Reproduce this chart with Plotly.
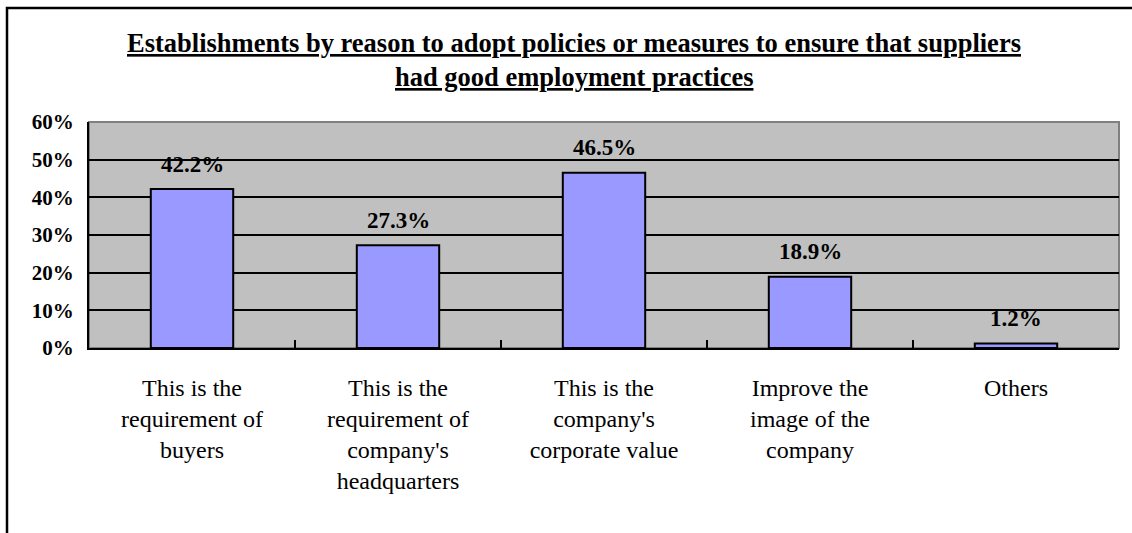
import plotly.graph_objects as go

# Survey results: reasons for adopting supplier employment-practice policies
categories = [
    "This is the<br>requirement of<br>buyers",
    "This is the<br>requirement of<br>company's<br>headquarters",
    "This is the<br>company's<br>corporate value",
    "Improve the<br>image of the<br>company",
    "Others",
]
shares = [42.2, 27.3, 46.5, 18.9, 1.2]
y_ticks = [0, 10, 20, 30, 40, 50, 60]
y_tick_text = [f"{v}%" for v in y_ticks]

title_lines = [
    "Establishments by reason to adopt policies or measures to ensure that suppliers",
    "had good employment practices",
]

FONT = "Liberation Serif"
W, H = 1132, 533
M_L, M_R, M_T, M_B = 89, 13, 122, 185
PW, PH = W - M_L - M_R, H - M_T - M_B


def px_x(px):
    return (px - M_L) / PW


def px_y(py):
    return (H - M_B - py) / PH


fig = go.Figure()
fig.add_trace(go.Bar(
    x=categories,
    y=shares,
    width=0.4,
    marker=dict(color="#9999FF", line=dict(color="black", width=2)),
    hoverinfo="skip",
))

annotations = []
for cat, val in zip(categories, shares):
    annotations.append(dict(
        x=cat, y=val, xref="x", yref="y",
        text=f"<b>{val:.1f}%</b>", showarrow=False,
        yanchor="middle", yshift=25,
        font=dict(family=FONT, size=23, color="black"),
    ))

for line, py in zip(title_lines, [43, 77]):
    annotations.append(dict(
        x=px_x(574), y=px_y(py), xref="paper", yref="paper",
        text=f"<b><u>{line}</u></b>", showarrow=False,
        xanchor="center", yanchor="middle",
        font=dict(family=FONT, size=26.5, color="black"),
    ))

shapes = [
    # gray frame on the top and right of the plotting area
    dict(type="rect", xref="paper", yref="paper", x0=0, x1=1, y0=0, y1=1,
         line=dict(color="#808080", width=2), layer="between"),
    # outer chart border (left and top edges)
    dict(type="path", xref="paper", yref="paper",
         path=f"M {px_x(7)} {px_y(540)} L {px_x(7)} {px_y(8)} L {px_x(1140)} {px_y(8)}",
         line=dict(color="black", width=2.5), layer="above"),
]

fig.update_layout(
    width=W, height=H,
    margin=dict(l=M_L, r=M_R, t=M_T, b=M_B),
    paper_bgcolor="white",
    plot_bgcolor="#C0C0C0",
    showlegend=False,
    bargap=0.6,
    annotations=annotations,
    shapes=shapes,
)

fig.update_xaxes(
    type="category",
    tickson="boundaries",
    ticks="inside", ticklen=8, tickwidth=2, tickcolor="black",
    showline=True, linecolor="black", linewidth=2,
    showgrid=False,
    tickfont=dict(family=FONT, size=24, color="black"),
    ticklabelstandoff=17,
)

fig.update_yaxes(
    range=[0, 60],
    tickvals=y_ticks, ticktext=[f"<b>{t}</b>" for t in y_tick_text],
    ticks="inside", ticklen=8, tickwidth=2, tickcolor="black",
    showline=True, linecolor="black", linewidth=2,
    showgrid=True, gridcolor="black", gridwidth=2,
    zeroline=False,
    tickfont=dict(family=FONT, size=21, color="black"),
    ticklabelstandoff=9,
)

fig.write_html("out.html")
